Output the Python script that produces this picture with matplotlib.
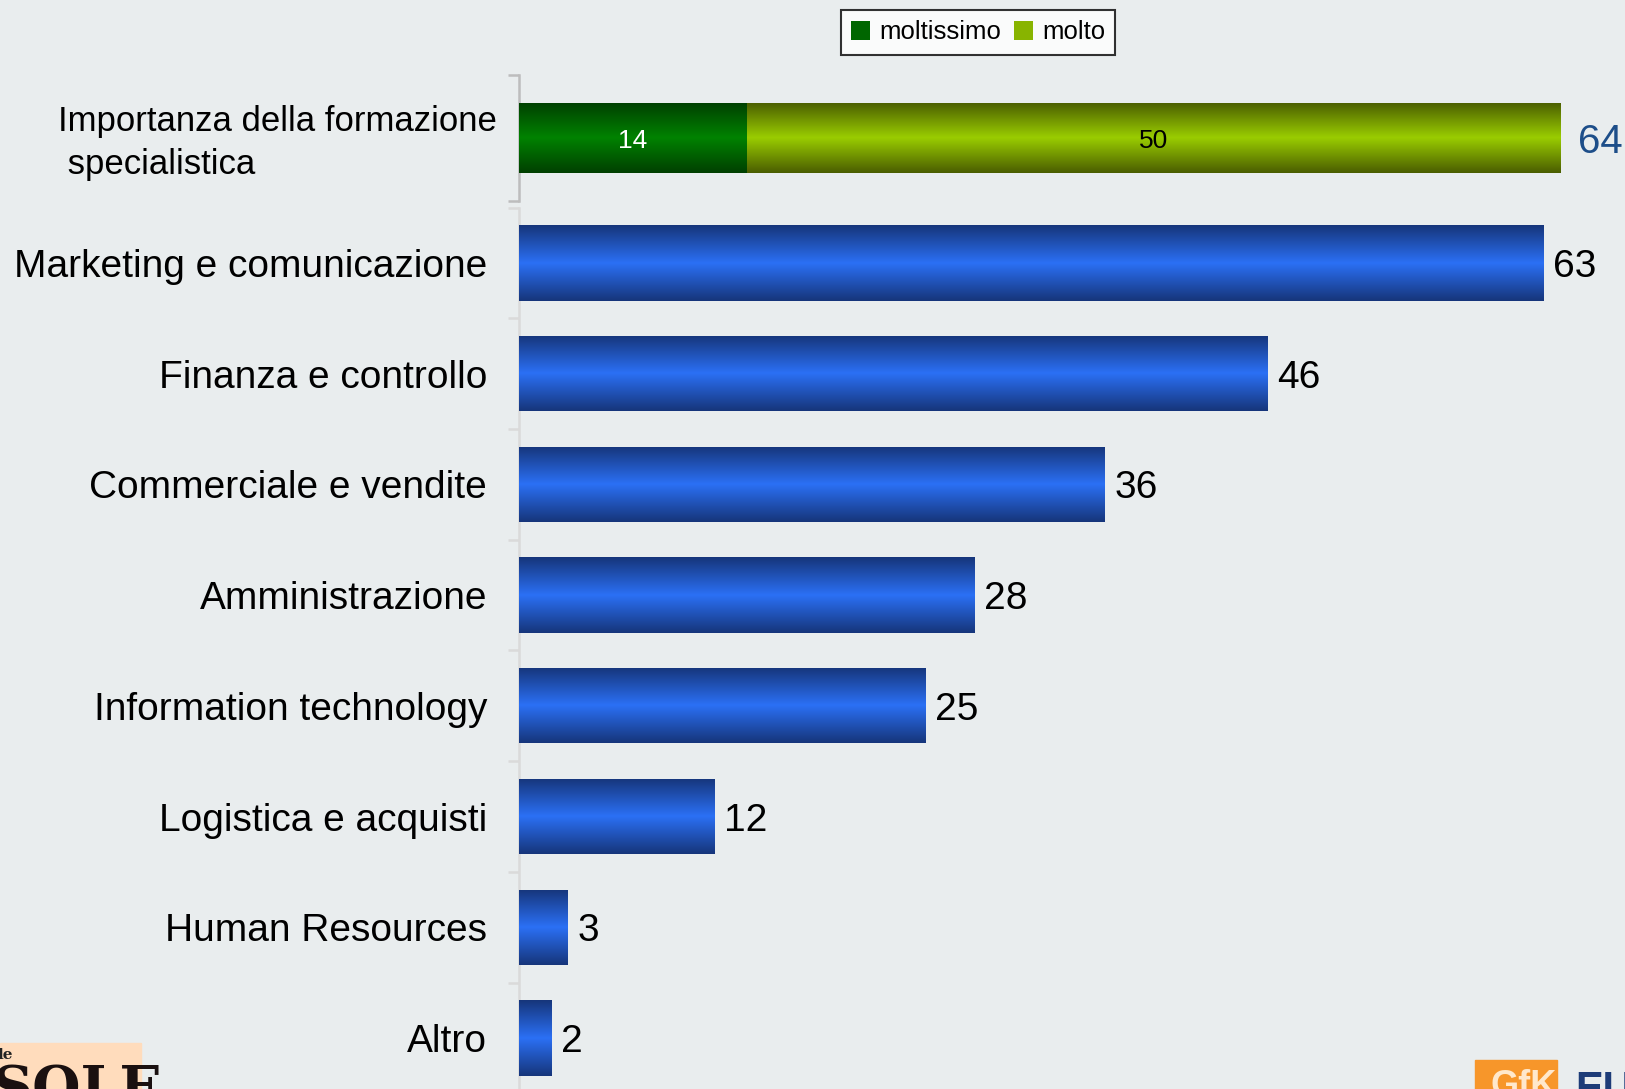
import numpy as np
import matplotlib
matplotlib.use("Agg")
import matplotlib.pyplot as plt
from matplotlib.colors import LinearSegmentedColormap
from matplotlib.patches import Patch, Rectangle

# ==========================
# DATA
# ==========================
top_label = "Importanza della formazione\n specialistica"
top_series = ["moltissimo", "molto"]
top_values = [14, 50]

categories = [
    "Marketing e comunicazione",
    "Finanza e controllo",
    "Commerciale e vendite",
    "Amministrazione",
    "Information technology",
    "Logistica e acquisti",
    "Human Resources",
    "Altro",
]
values = [63, 46, 36, 28, 25, 12, 3, 2]

# ==========================
# STYLE
# ==========================
BG = "#e9edee"
REG = ["Liberation Sans", "DejaVu Sans"]
plt.rcParams["font.family"] = REG

BLUE = ("#16357a", "#2b70f5")
DKGREEN = ("#003f00", "#008200")
LTGREEN = ("#4a5d00", "#9acd00")
XMAX = 68.0


def gradient_bar(ax, bar, dark, light):
    x0, y0 = bar.get_x(), bar.get_y()
    w, h = bar.get_width(), bar.get_height()
    cmap = LinearSegmentedColormap.from_list("g", [dark, light, dark])
    grad = np.linspace(0, 1, 256).reshape(-1, 1)
    im = ax.imshow(grad, extent=(x0, x0 + w, y0, y0 + h), cmap=cmap,
                   aspect="auto", zorder=3, interpolation="bilinear")
    im.set_clip_path(bar)
    bar.set_facecolor("none")


fig = plt.figure(figsize=(16.25, 10.89), dpi=100)
fig.patch.set_facecolor(BG)

# ==========================
# TOP: stacked bar
# ==========================
ax_t = fig.add_axes([0.3194, 0.8154, 0.6806, 0.1157])
ax_t.set_facecolor("none")
left = 0
colors = [DKGREEN, LTGREEN]
txt_cols = ["white", "black"]
for val, (dk, lt), tc in zip(top_values, colors, txt_cols):
    b = ax_t.barh([0], [val], left=left, height=0.556, linewidth=0)[0]
    gradient_bar(ax_t, b, dk, lt)
    ax_t.text(left + val / 2, 0, str(val), ha="center", va="center_baseline",
              fontsize=19, color=tc, zorder=5)
    left += val
ax_t.text(sum(top_values) + 1.1, 0, str(sum(top_values)), ha="left",
          va="center_baseline", fontsize=29, color="#1d4e89")
ax_t.set_xlim(0, XMAX)
ax_t.set_ylim(0.5, -0.5)
for s in ["top", "right", "bottom"]:
    ax_t.spines[s].set_visible(False)
ax_t.spines["left"].set_color("#bdbdbd")
ax_t.spines["left"].set_linewidth(1.8)
ax_t.set_xticks([])
ax_t.set_yticks([-0.5, 0.5])
ax_t.set_yticklabels([])
ax_t.tick_params(axis="y", length=8, width=1.8, color="#bdbdbd")

fig.text(58 / 1625, 1 - 143 / 1089, top_label, ha="left", va="center",
         fontsize=25, linespacing=1.35)

# ==========================
# BOTTOM: blue bars
# ==========================
ax = fig.add_axes([0.3194, -0.0040, 0.6806, 0.8134])
ax.set_facecolor("none")
pos = np.arange(len(categories))
bars = ax.barh(pos, values, height=0.68, linewidth=0)
for b in bars:
    gradient_bar(ax, b, *BLUE)
for p, v in zip(pos, values):
    ax.text(v + 0.6, p, str(v), ha="left", va="center_baseline", fontsize=28,
            color="black")
ax.set_xlim(0, XMAX)
ax.set_ylim(len(categories) - 0.5, -0.5)
for s in ["top", "right", "bottom"]:
    ax.spines[s].set_visible(False)
ax.spines["left"].set_color("#dadada")
ax.spines["left"].set_linewidth(1.8)
ax.set_xticks([])
ax.set_yticks(pos)
ax.set_yticklabels(categories, fontsize=28)
ax.set_yticks(np.arange(-0.5, len(categories)), minor=True)
ax.tick_params(axis="y", which="major", length=0, pad=23)
ax.tick_params(axis="y", which="minor", length=8, width=1.8, color="#dadada")

# ==========================
# LEGEND
# ==========================
handles = [Patch(facecolor="#006600", edgecolor="none"),
           Patch(facecolor="#88b400", edgecolor="none")]
leg = fig.legend(handles, top_series, loc="upper center",
                 bbox_to_anchor=(978 / 1625, 1 - 10 / 1089), ncol=2,
                 fontsize=18.5, frameon=True, fancybox=False,
                 handlelength=0.75, handleheight=0.75, handletextpad=0.35,
                 columnspacing=0.5, borderpad=0.4, borderaxespad=0)
leg.get_frame().set_edgecolor("black")
leg.get_frame().set_linewidth(1.5)
leg.get_frame().set_facecolor("white")

# ==========================
# LOGO FRAGMENTS
# ==========================
fig.patches.append(Rectangle((0, 0), 141 / 1625, 46 / 1089,
                             transform=fig.transFigure, color="#ffdcbc",
                             zorder=0))
fig.text(-2 / 1625, 1 - 1062 / 1089, "le", fontsize=11, family="DejaVu Serif",
         weight="bold", color="#222222", va="bottom")
fig.text(-8 / 1625, 1 - 1118 / 1089, "SOLE", fontsize=40,
         family="DejaVu Serif", weight="bold", color="#1a1010", va="bottom")
fig.patches.append(Rectangle((1475 / 1625, 0), 82 / 1625, 29 / 1089,
                             transform=fig.transFigure, color="#f7962a",
                             zorder=0))
fig.text(1490 / 1625, 1 - 1104 / 1089, "GfK", fontsize=26, weight="bold",
         color="#ffe8cc", va="bottom")
fig.text(1575 / 1625, 1 - 1110 / 1089, "EU", fontsize=30, weight="bold",
         color="#1d3c78", va="bottom")

fig.savefig("out.png", dpi=100, facecolor=BG)
